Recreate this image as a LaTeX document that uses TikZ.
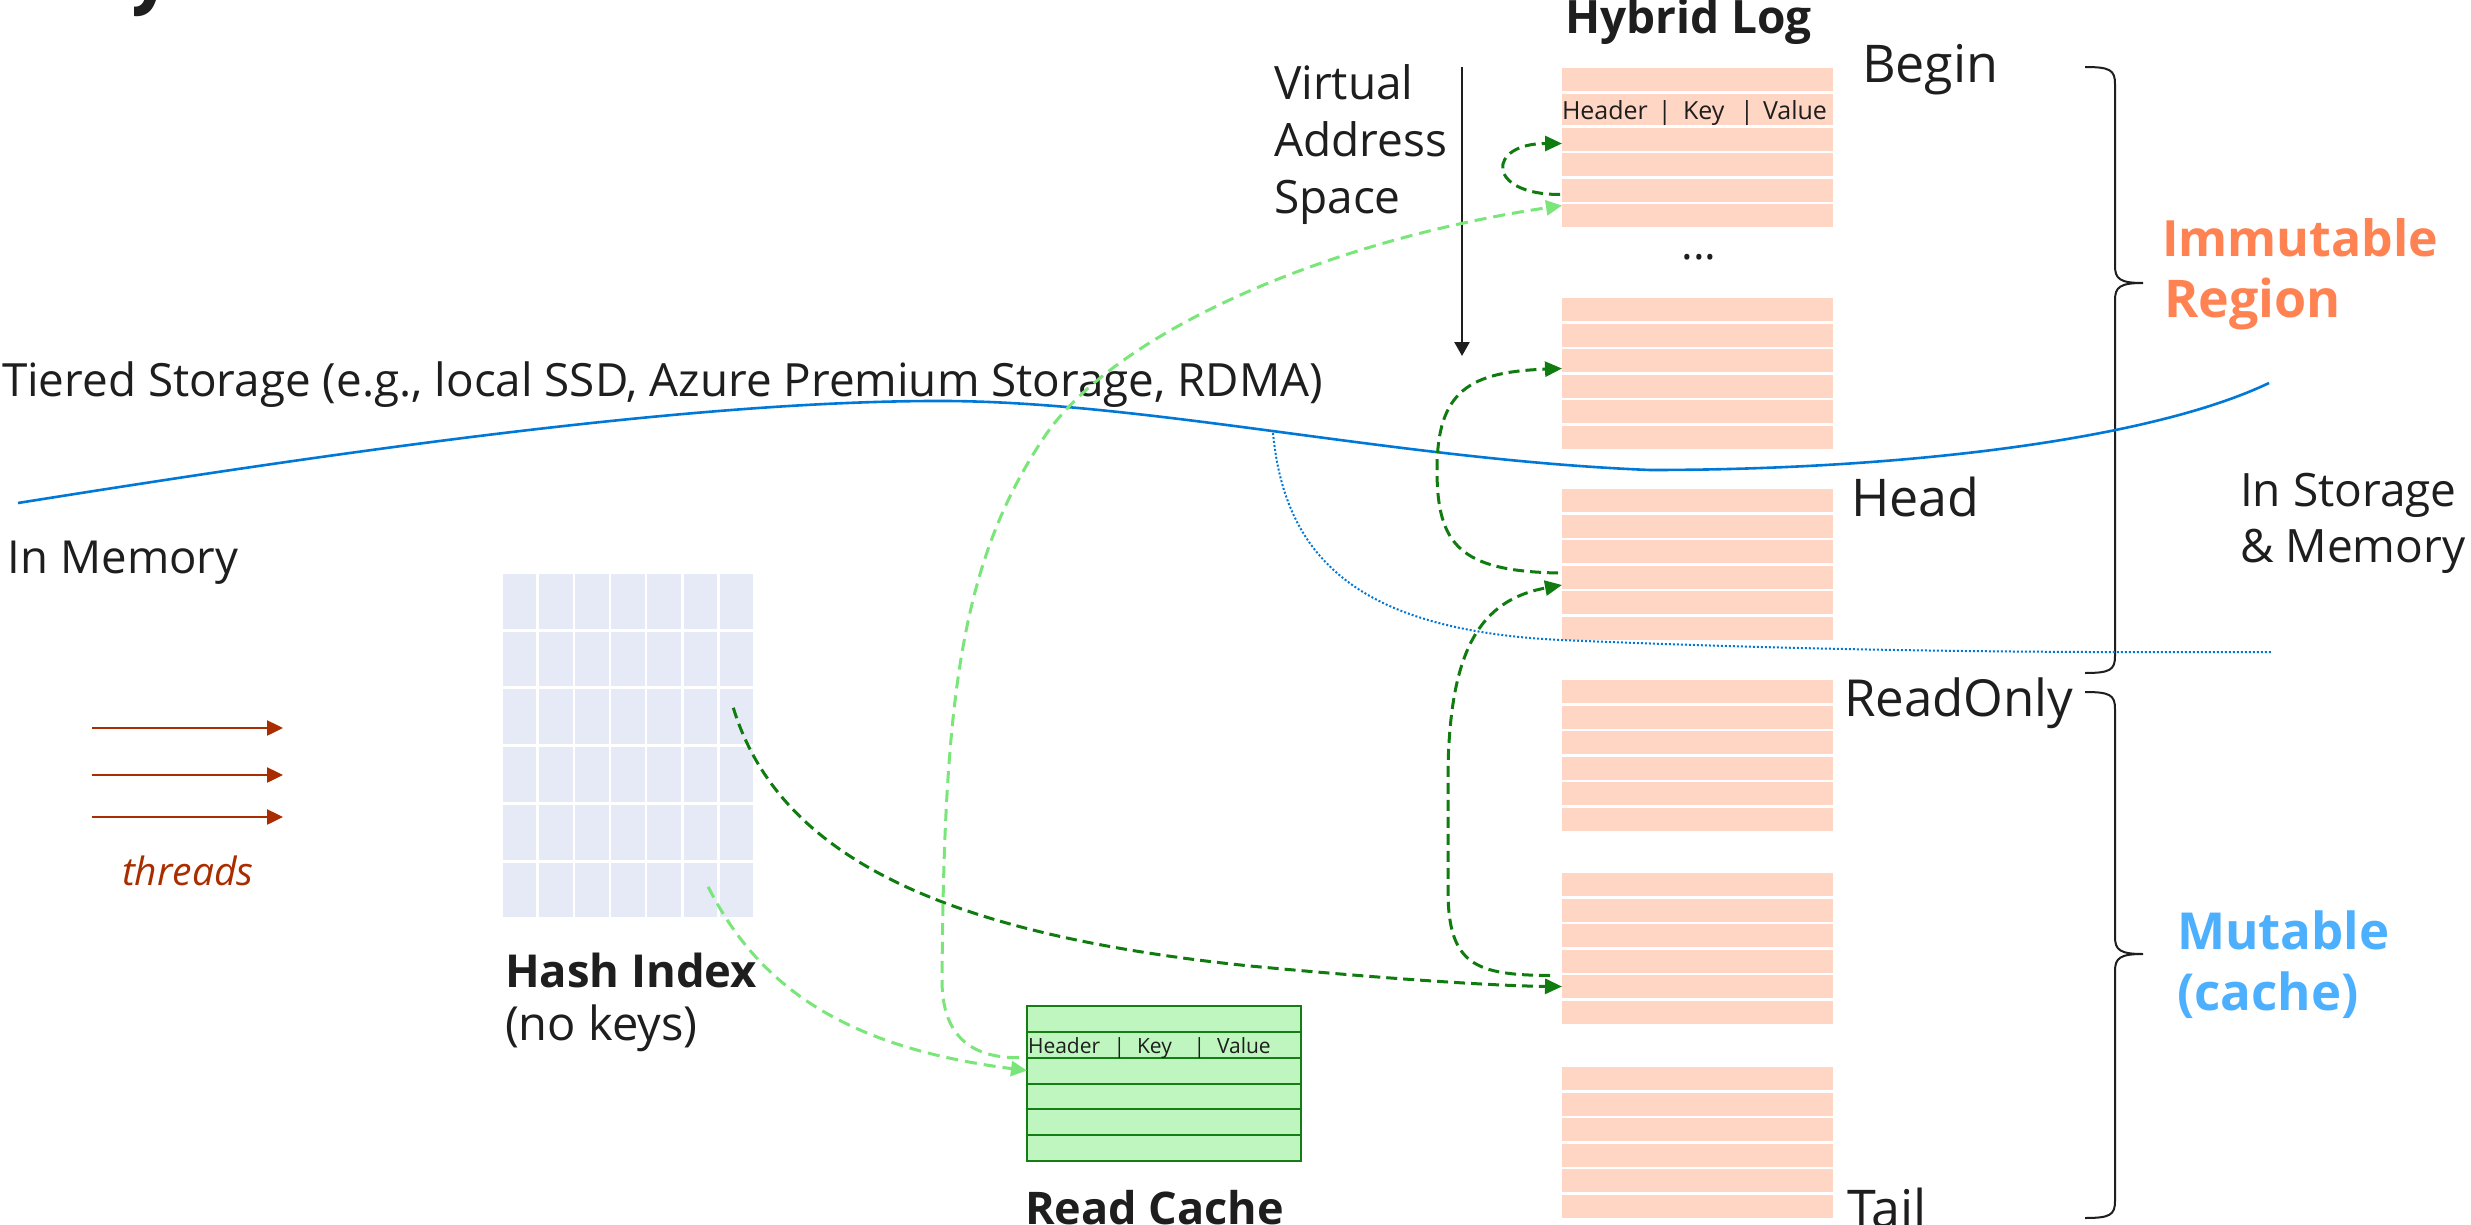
\documentclass[tikz,border=0pt]{standalone}
\usepackage{fontspec}
\setmainfont{Open Sans}
\usetikzlibrary{arrows.meta,calc}

\definecolor{ink}{RGB}{30,30,30}
\definecolor{logfill}{RGB}{255,213,196}
\definecolor{hashfill}{RGB}{230,234,246}
\definecolor{cachefill}{RGB}{191,245,191}
\definecolor{cacheline}{RGB}{20,125,20}
\definecolor{darkgreen}{RGB}{16,124,16}
\definecolor{lightgreen}{RGB}{122,230,122}
\definecolor{storageblue}{RGB}{0,120,215}
\definecolor{immutorange}{RGB}{255,130,82}
\definecolor{mutblue}{RGB}{77,176,255}
\definecolor{threadred}{RGB}{170,45,0}

\newcommand\fsz[1]{\fontsize{#1}{#1}\selectfont}

\begin{document}
\begin{tikzpicture}[x=1pt,y=-1pt,
  every node/.style={inner sep=0pt, outer sep=0pt, text=ink},
  txt/.style={anchor=base west},
  logrow/.style={fill=logfill, minimum width=271pt, minimum height=23pt, anchor=north west},
  hashcell/.style={fill=hashfill, minimum width=33.4pt, minimum height=54.7pt, anchor=north west},
  cacherow/.style={draw=cacheline, line width=2pt, fill=cachefill, minimum width=274pt, minimum height=25.83pt, anchor=north west},
  darklink/.style={draw=darkgreen, line width=3pt, dash pattern=on 11pt off 6pt, -{Triangle[length=17pt,width=15pt]}},
  lightlink/.style={draw=lightgreen, line width=3pt, dash pattern=on 12pt off 7pt, -{Triangle[length=16pt,width=15pt]}},
  thread/.style={draw=threadred, line width=2.5pt, -{Triangle[length=16pt,width=15pt]}},
  storage/.style={draw=storageblue, line width=2.6pt},
  bracepath/.style={draw=ink, line width=2pt},
]
\useasboundingbox (0,0) rectangle (2471,1225);
\fill[white] (0,0) rectangle (2471,1225);

% tail of the heading letter above the frame
\begin{scope}
  \clip (134,0) rectangle (170,20);
  \node[txt, font=\fsz{80}\bfseries] (cuty) at (128,-2) {y};
\end{scope}

% ---------- hybrid log ----------
\node[txt, font=\fsz{46}\bfseries] (hltitle) at (1565,34) {Hybrid Log};

\node[logrow] (b1-1) at (1562,68) {};
\node[logrow, minimum height=31pt] (b1-2) at (1562,94) {};
\foreach \r/\t in {3/128,4/153,5/179,6/204}
  \node[logrow] (b1-\r) at (1562,\t) {};
\node[txt, font=\fsz{25}] (hdr) at (1562,120)
  {\rlap{Header}\hspace{96pt}\rlap{|}\hspace{25pt}\rlap{Key}\hspace{57pt}\rlap{|}\hspace{23pt}Value};

\foreach \b/\t in {2/298,3/489,4/680,5/873,6/1067}
  \foreach \r in {1,...,6}
    \node[logrow] (b\b-\r) at (1562,{\t+(\r-1)*25.5}) {};

\node[anchor=base, font=\fsz{44}] (dots) at (1699,259) {...};

\node[txt, font=\fsz{52}] (lbegin) at (1862,83) {Begin};
\node[txt, font=\fsz{52}] (lhead) at (1851,516) {Head};
\node[txt, font=\fsz{51}] (lro) at (1844,716) {ReadOnly};
\node[txt, font=\fsz{52}] (ltail) at (1847,1227) {Tail};

% braces
\coordinate (i0) at (2085,67);
\coordinate (i1) at (2143,283);
\coordinate (i2) at (2085,673);
\draw[bracepath] (i0) .. controls (2110,67) and (2115,70) .. (2115,84)
  -- (2115,266) .. controls (2115,279) and (2120,283) .. (i1)
  .. controls (2120,283) and (2115,287) .. (2115,300)
  -- (2115,656) .. controls (2115,670) and (2110,673) .. (i2);
\coordinate (m0) at (2085,692);
\coordinate (m1) at (2143,954);
\coordinate (m2) at (2085,1218);
\draw[bracepath] (m0) .. controls (2110,692) and (2115,695) .. (2115,709)
  -- (2115,937) .. controls (2115,950) and (2120,954) .. (m1)
  .. controls (2120,954) and (2115,958) .. (2115,971)
  -- (2115,1201) .. controls (2115,1215) and (2110,1218) .. (m2);

\node[txt, font=\fsz{50}\bfseries, text=immutorange] (imm1) at (2162,257) {Immutable};
\node[txt, font=\fsz{52}\bfseries, text=immutorange] (imm2) at (2164,317) {Region};
\node[txt, font=\fsz{51}\bfseries, text=mutblue] (mut1) at (2177,949) {Mutable};
\node[txt, font=\fsz{51}\bfseries, text=mutblue] (mut2) at (2177,1010) {(cache)};

% ---------- virtual address space ----------
\node[txt, font=\fsz{46}] (va1) at (1274,100) {Virtual};
\node[txt, font=\fsz{46}] (va2) at (1274,157) {Address};
\node[txt, font=\fsz{46}] (va3) at (1274,214) {Space};
\coordinate (vtop) at (1462,67);
\coordinate (vbot) at (1462,356);
\draw[line width=2.5pt, draw=ink, -{Triangle[length=14pt,width=15pt]}] (vtop) -- (vbot);

% ---------- storage boundary ----------
\node[txt, font=\fsz{45.8}] (tiered) at (2,396) {Tiered Storage (e.g., local SSD, Azure Premium Storage, RDMA)};
\node[txt, font=\fsz{45.5}] (inmem) at (8,573) {In Memory};
\node[txt, font=\fsz{46}] (ism1) at (2240,506) {In Storage};
\node[txt, font=\fsz{46}] (ism2) at (2240,562) {\& Memory};

\coordinate (s0) at (18,503);
\coordinate (s1) at (946,401);
\coordinate (s2) at (1650,470);
\coordinate (s3) at (2269,383);
\coordinate (split) at (1273,433);
\coordinate (dend) at (2272,652);
\draw[storage] (s0) .. controls (350,450) and (700,400) .. (s1)
  .. controls (1150,402) and (1400,460) .. (s2)
  .. controls (1900,470) and (2150,440) .. (s3);
\draw[draw=storageblue, line width=2pt, dash pattern=on 2pt off 2pt]
  (split) .. controls (1285,560) and (1360,630) .. (1560,640)
  .. controls (1800,650) and (2000,653) .. (dend);

% ---------- hash index ----------
\foreach \r in {1,...,6}
  \foreach \c in {1,...,7}
    \node[hashcell] (h\r\c) at ({503+(\c-1)*36.1},{574+(\r-1)*57.7}) {};
\node[txt, font=\fsz{45.4}\bfseries] (hashlbl) at (505,987) {Hash Index};
\node[txt, font=\fsz{47}] (nokeys) at (505,1040) {(no keys)};

% ---------- threads ----------
\foreach \i/\y in {1/728,2/775,3/817} {
  \coordinate (t\i a) at (92,\y);
  \coordinate (t\i b) at (283,\y);
  \draw[thread] (t\i a) -- (t\i b);
}
\node[txt, font=\fsz{39}\itshape, text=threadred] (thr) at (122,885) {threads};

% ---------- read cache ----------
\foreach \k in {1,...,6}
  \node[cacherow] (rc\k) at (1027,{1006+(\k-1)*25.83}) {};
\node[txt, font=\fsz{21}] (rchdr) at (1028,1053)
  {\rlap{Header}\hspace{85.5pt}\rlap{|}\hspace{23.5pt}\rlap{Key}\hspace{56.5pt}\rlap{|}\hspace{23.5pt}Value};
\node[txt, font=\fsz{45}\bfseries] (rclbl) at (1025,1224) {Read Cache};

% ---------- record links ----------
\draw[darklink] ($(b1-5.west)+(-2,4)$) .. controls +(-75,0) and +(-75,0) .. ($(b1-3.west)+(0,4)$);
\draw[darklink] ($(b3-4.west)+(-4,-4)$) .. controls (1460,571) and (1437,545) .. (1437,470)
  .. controls (1437,390) and (1470,372) .. ($(b2-3.west)+(0,8)$);
\draw[darklink] ($(b5-5.west)+(-12,-11)$) .. controls (1475,975) and (1448,965) .. (1448,890)
  -- (1448,770) .. controls (1450,650) and (1480,600) .. ($(b3-4.west)+(0,8)$);
\draw[darklink] ($(h37.center)+(-3,-9)$) .. controls (780,860) and (950,935) .. (1250,966)
  .. controls (1400,980) and (1500,986) .. (b5-5.west);
\draw[lightlink] ($(h66.center)+(8,-3)$) .. controls (760,990) and (850,1048) .. (rc3.west);
\draw[lightlink] ($(rc2.south west)+(-8,0)$) .. controls (965,1058) and (942,1030) .. (942,980)
  .. controls (944,700) and (960,560) .. (1047,433)
  .. controls (1120,330) and (1330,240) .. ($(b1-6.west)+(0,-10)$);
\end{tikzpicture}
\end{document}
